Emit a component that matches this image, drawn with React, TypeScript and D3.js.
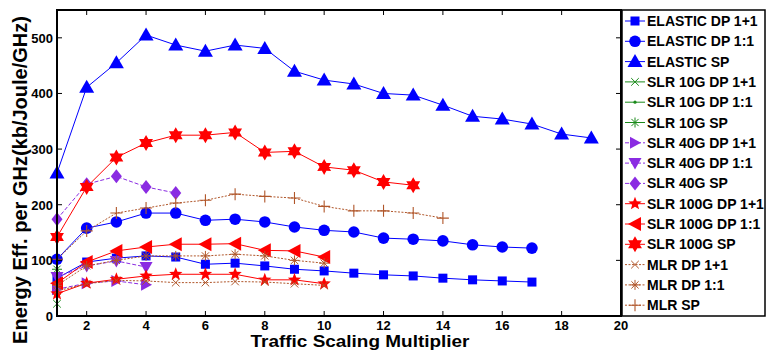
import React from "react";
import * as d3 from "d3";

// values, index 0 -> multiplier 1
const elasticDp11 = [68, 97, 104, 108, 106, 93, 95, 90, 84, 81, 77, 74, 72, 68, 65, 63, 61];
const elasticDp1to1 = [102, 158, 169, 185, 185, 172, 174, 169, 160, 154, 151, 140, 138, 135, 128, 124, 122];
const elasticSp = [257, 411, 455, 505, 487, 476, 487, 481, 440, 424, 417, 400, 397, 379, 359, 354, 345, 327, 320];
const slr10Dp11 = [22];
const slr10Dp1to1 = [45];
const slr10Sp = [84];
const slr40Dp11 = [48, 59, 63, 56];
const slr40Dp1to1 = [70, 90, 99, 88];
const slr40Sp = [174, 237, 251, 232, 221];
const slr100Dp11 = [40, 59, 66, 72, 75, 75, 75, 65, 65, 58];
const slr100Dp1to1 = [59, 97, 117, 124, 129, 129, 130, 118, 117, 106];
const slr100Sp = [142, 232, 285, 311, 325, 325, 330, 294, 296, 268, 262, 241, 235];
const mlrDp11 = [45, 58, 64, 63, 60, 60, 62, 61, 58, 55];
const mlrDp1to1 = [55, 90, 100, 108, 108, 108, 111, 108, 100, 95];
const mlrSp = [102, 153, 185, 194, 203, 208, 219, 215, 212, 197, 189, 189, 185, 176];

const xTicks = [2, 4, 6, 8, 10, 12, 14, 16, 18, 20];
const yTicks = [0, 100, 200, 300, 400, 500];

const BLUE = "#0000ff";
const GREEN = "#1a8a1a";
const PURPLE = "#8a2be2";
const RED = "#ff0000";
const BROWN = "#b0562a";

type Marker =
  | "square" | "circle" | "triUp" | "x" | "dot" | "asterisk" | "triRight"
  | "triDown" | "diamond" | "star5" | "hexagram" | "triLeft" | "plus";

const series: { name: string; values: number[]; color: string; marker: Marker; dash?: string }[] = [
  { name: "ELASTIC DP 1+1", values: elasticDp11, color: BLUE, marker: "square" },
  { name: "ELASTIC DP 1:1", values: elasticDp1to1, color: BLUE, marker: "circle" },
  { name: "ELASTIC SP", values: elasticSp, color: BLUE, marker: "triUp" },
  { name: "SLR 10G DP 1+1", values: slr10Dp11, color: GREEN, marker: "x" },
  { name: "SLR 10G DP 1:1", values: slr10Dp1to1, color: GREEN, marker: "dot" },
  { name: "SLR 10G SP", values: slr10Sp, color: GREEN, marker: "asterisk" },
  { name: "SLR 40G DP 1+1", values: slr40Dp11, color: PURPLE, marker: "triRight", dash: "4,2" },
  { name: "SLR 40G DP 1:1", values: slr40Dp1to1, color: PURPLE, marker: "triDown", dash: "4,2" },
  { name: "SLR 40G SP", values: slr40Sp, color: PURPLE, marker: "diamond", dash: "4,2" },
  { name: "SLR 100G DP 1+1", values: slr100Dp11, color: RED, marker: "star5" },
  { name: "SLR 100G DP 1:1", values: slr100Dp1to1, color: RED, marker: "triLeft" },
  { name: "SLR 100G SP", values: slr100Sp, color: RED, marker: "hexagram" },
  { name: "MLR DP 1+1", values: mlrDp11, color: BROWN, marker: "x", dash: "2,1.5" },
  { name: "MLR DP 1:1", values: mlrDp1to1, color: BROWN, marker: "asterisk", dash: "2,1.5" },
  { name: "MLR SP", values: mlrSp, color: BROWN, marker: "plus", dash: "2,1.5" },
];

const W = 767;
const H = 356;
const plot = { left: 57, right: 621, top: 10, bottom: 316 };
const FONT = "'Liberation Sans', Arial, sans-serif";

const starPath = (points: number, outer: number, inner: number) => {
  let p = "";
  for (let i = 0; i < points * 2; i++) {
    const r = i % 2 === 0 ? outer : inner;
    const a = -Math.PI / 2 + (i * Math.PI) / points;
    p += (i === 0 ? "M" : "L") + (r * Math.cos(a)).toFixed(2) + "," + (r * Math.sin(a)).toFixed(2);
  }
  return p + "Z";
};

const MarkerShape = ({ type, cx, cy, color }: { type: Marker; cx: number; cy: number; color: string }) => {
  const t = `translate(${cx},${cy})`;
  switch (type) {
    case "square":
      return <rect x={cx - 4.5} y={cy - 4.5} width={9} height={9} fill={color} />;
    case "circle":
      return <circle cx={cx} cy={cy} r={5.8} fill={color} />;
    case "dot":
      return <circle cx={cx} cy={cy} r={1.6} fill={color} />;
    case "triUp":
      return <path transform={t} d="M0,-7.5L7.5,5.5L-7.5,5.5Z" fill={color} />;
    case "triDown":
      return <path transform={t} d="M0,6.5L6.5,-5L-6.5,-5Z" fill={color} />;
    case "triRight":
      return <path transform={t} d="M6,0L-5,6L-5,-6Z" fill={color} />;
    case "triLeft":
      return <path transform={t} d="M-7,0L6,-7L6,7Z" fill={color} />;
    case "diamond":
      return <path transform={t} d="M0,-7L5.5,0L0,7L-5.5,0Z" fill={color} />;
    case "star5":
      return <path transform={t} d={starPath(5, 7, 3)} fill={color} />;
    case "hexagram":
      return <path transform={t} d={starPath(6, 8, 4.6)} fill={color} />;
    case "x":
      return (
        <path transform={t} d="M-3.8,-3.8L3.8,3.8M-3.8,3.8L3.8,-3.8" stroke={color} strokeWidth={1} fill="none" />
      );
    case "asterisk":
      return (
        <path
          transform={t}
          d="M-5,0L5,0M0,-5L0,5M-3.6,-3.6L3.6,3.6M-3.6,3.6L3.6,-3.6"
          stroke={color}
          strokeWidth={1}
          fill="none"
        />
      );
    case "plus":
      return <path transform={t} d="M-6,0L6,0M0,-6L0,6" stroke={color} strokeWidth={1.1} fill="none" />;
  }
  return null;
};

export default function App() {
  const x = d3.scaleLinear().domain([1, 20]).range([plot.left, plot.right]);
  const y = d3.scaleLinear().domain([0, 550]).range([plot.bottom, plot.top]);

  const line = d3
    .line<number>()
    .x((_, i) => x(i + 1))
    .y((d) => y(d));

  // legend sits over the right edge of the axes, bottom flush with the x axis
  const legend = { left: 622, top: 10, right: 765, bottom: plot.bottom, rowH: 20.3, first: 21 };

  return (
    <svg
      width={W}
      height={H}
      style={{ position: "fixed", left: 0, top: 0, background: "#fff" }}
      fontFamily={FONT}
    >
      <rect width={W} height={H} fill="#fff" />

      {/* series */}
      {series.map((s) => (
        <g key={s.name}>
          {s.values.length > 1 && (
            <path
              d={line(s.values) ?? ""}
              fill="none"
              stroke={s.color}
              strokeWidth={1}
              strokeDasharray={s.dash}
            />
          )}
          {s.values.map((v, i) => (
            <MarkerShape key={i} type={s.marker} cx={x(i + 1)} cy={y(v)} color={s.color} />
          ))}
        </g>
      ))}

      {/* axes box + ticks */}
      <rect
        x={plot.left}
        y={plot.top}
        width={plot.right - plot.left}
        height={plot.bottom - plot.top}
        fill="none"
        stroke="#000"
        strokeWidth={2}
      />
      {xTicks.map((t) => (
        <g key={"x" + t}>
          <line x1={x(t)} x2={x(t)} y1={plot.bottom} y2={plot.bottom - 5} stroke="#000" />
          <line x1={x(t)} x2={x(t)} y1={plot.top} y2={plot.top + 5} stroke="#000" />
          <text x={x(t)} y={plot.bottom + 14} textAnchor="middle" fontSize={13} fontWeight="bold">
            {t}
          </text>
        </g>
      ))}
      {yTicks.map((t) => (
        <g key={"y" + t}>
          <line x1={plot.left} x2={plot.left + 5} y1={y(t)} y2={y(t)} stroke="#000" />
          <line x1={plot.right} x2={plot.right - 5} y1={y(t)} y2={y(t)} stroke="#000" />
          <text x={plot.left - 4} y={y(t) + 5} textAnchor="end" fontSize={13} fontWeight="bold">
            {t}
          </text>
        </g>
      ))}

      {/* axis titles */}
      <text
        x={360}
        y={347}
        textAnchor="middle"
        fontSize={17}
        fontWeight="bold"
        textLength={219}
        lengthAdjust="spacingAndGlyphs"
      >
        Traffic Scaling Multiplier
      </text>
      <text
        transform={`translate(27,180) rotate(-90)`}
        textAnchor="middle"
        fontSize={20}
        fontWeight="bold"
      >
        Energy Eff. per GHz(kb/Joule/GHz)
      </text>

      {/* legend */}
      <rect
        x={legend.left}
        y={legend.top}
        width={legend.right - legend.left}
        height={legend.bottom - legend.top}
        fill="#fff"
        stroke="#000"
        strokeWidth={1.5}
      />
      {series.map((s, i) => {
        const cy = legend.first + i * legend.rowH;
        return (
          <g key={"lg" + s.name}>
            <line
              x1={legend.left + 3}
              x2={legend.left + 23}
              y1={cy}
              y2={cy}
              stroke={s.color}
              strokeWidth={1}
              strokeDasharray={s.dash}
            />
            <MarkerShape type={s.marker} cx={legend.left + 13} cy={cy} color={s.color} />
            <text x={legend.left + 25} y={cy + 5} fontSize={14} fontWeight="bold">
              {s.name}
            </text>
          </g>
        );
      })}
    </svg>
  );
}
